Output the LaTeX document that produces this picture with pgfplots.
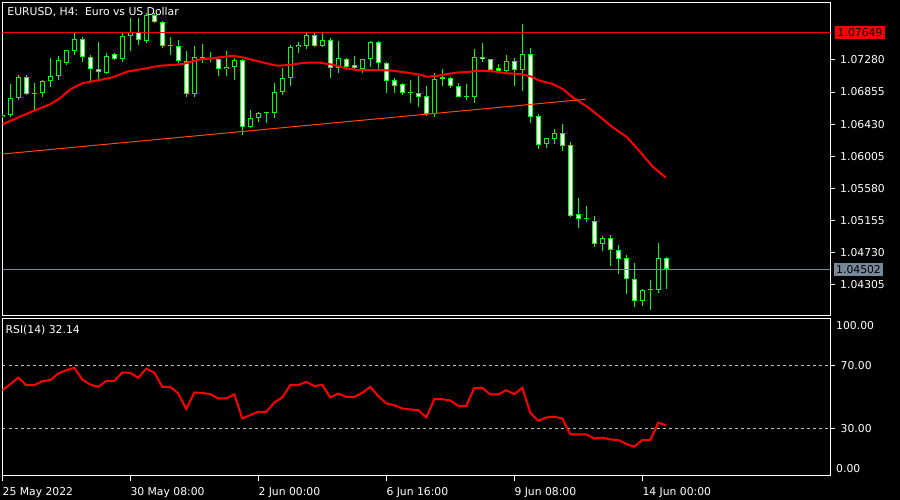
\documentclass[border=0pt]{standalone}
\usepackage{pgfplots}
\pgfplotsset{compat=1.18}
\usepackage{pgfplotstable}
\usepackage{fontspec}
\setmainfont{DejaVu Sans}
\definecolor{mtlime}{RGB}{0,255,0}
\definecolor{mtred}{RGB}{255,0,0}
\definecolor{mtorange}{RGB}{255,69,0}
\definecolor{mtgray}{RGB}{119,136,153}
\definecolor{mtsilver}{RGB}{192,192,192}
\newcommand{\mtf}{\fontsize{10.8bp}{12bp}\selectfont}

\pgfplotstableread{
i o h l c
0 1.06520 1.06573 1.06502 1.06550
1 1.06550 1.06962 1.06528 1.06772
2 1.06772 1.07081 1.06749 1.07050
3 1.07050 1.07077 1.06811 1.06825
4 1.06829 1.06970 1.06617 1.06833
5 1.06838 1.07015 1.06794 1.07001
6 1.06997 1.07302 1.06926 1.07068
7 1.07063 1.07333 1.07015 1.07276
8 1.07245 1.07413 1.07214 1.07408
9 1.07404 1.07656 1.07346 1.07554
10 1.07554 1.07590 1.07258 1.07315
11 1.07315 1.07346 1.06993 1.07156
12 1.07156 1.07514 1.07028 1.07116
13 1.07112 1.07368 1.07094 1.07333
14 1.07360 1.07377 1.07280 1.07298
15 1.07289 1.07634 1.07258 1.07598
16 1.07598 1.07833 1.07404 1.07651
17 1.07651 1.07833 1.07479 1.07541
18 1.07536 1.07899 1.07510 1.07877
19 1.07877 1.07908 1.07775 1.07788
20 1.07780 1.07802 1.07435 1.07466
21 1.07470 1.07590 1.07346 1.07466
22 1.07466 1.07545 1.07245 1.07271
23 1.07271 1.07404 1.06794 1.06825
24 1.06825 1.07470 1.06794 1.07315
25 1.07315 1.07488 1.07236 1.07307
26 1.07307 1.07391 1.07258 1.07298
27 1.07293 1.07324 1.07068 1.07156
28 1.07156 1.07399 1.07068 1.07183
29 1.07183 1.07302 1.07015 1.07276
30 1.07276 1.07289 1.06285 1.06396
31 1.06396 1.06617 1.06374 1.06506
32 1.06506 1.06595 1.06462 1.06573
33 1.06573 1.06590 1.06449 1.06581
34 1.06581 1.06970 1.06506 1.06851
35 1.06851 1.07169 1.06816 1.07037
36 1.07037 1.07479 1.06935 1.07448
37 1.07448 1.07514 1.07377 1.07475
38 1.07470 1.07643 1.07421 1.07612
39 1.07612 1.07647 1.07457 1.07470
40 1.07470 1.07634 1.07457 1.07545
41 1.07541 1.07567 1.07046 1.07169
42 1.07169 1.07532 1.07112 1.07302
43 1.07289 1.07302 1.07147 1.07192
44 1.07209 1.07333 1.07147 1.07169
45 1.07161 1.07293 1.07103 1.07289
46 1.07289 1.07532 1.07192 1.07514
47 1.07514 1.07532 1.07156 1.07236
48 1.07236 1.07258 1.06847 1.07006
49 1.07015 1.07037 1.06847 1.06940
50 1.06957 1.06970 1.06816 1.06847
51 1.06847 1.07015 1.06714 1.06842
52 1.06838 1.07068 1.06661 1.06794
53 1.06798 1.06935 1.06537 1.06564
54 1.06564 1.07103 1.06528 1.07024
55 1.07024 1.07161 1.06935 1.07050
56 1.07037 1.07050 1.06913 1.06940
57 1.06935 1.06970 1.06785 1.06794
58 1.06798 1.06962 1.06749 1.06794
59 1.06794 1.07421 1.06714 1.07324
60 1.07324 1.07510 1.07258 1.07289
61 1.07289 1.07293 1.07139 1.07147
62 1.07169 1.07227 1.07112 1.07134
63 1.07134 1.07346 1.07112 1.07271
64 1.07271 1.07302 1.06935 1.07147
65 1.07147 1.07758 1.06873 1.07355
66 1.07355 1.07435 1.06449 1.06528
67 1.06533 1.06564 1.06104 1.06157
68 1.06166 1.06250 1.06117 1.06241
69 1.06237 1.06360 1.06166 1.06307
70 1.06307 1.06427 1.06077 1.06144
71 1.06148 1.06188 1.05193 1.05211
72 1.05233 1.05445 1.05056 1.05166
73 1.05175 1.05339 1.05136 1.05171
74 1.05144 1.05211 1.04804 1.04844
75 1.04844 1.04945 1.04751 1.04914
76 1.04914 1.04959 1.04552 1.04755
77 1.04755 1.04822 1.04441 1.04645
78 1.04649 1.04689 1.04176 1.04371
79 1.04371 1.04583 1.03999 1.04079
80 1.04079 1.04242 1.04017 1.04225
81 1.04225 1.04362 1.03964 1.04229
82 1.04229 1.04848 1.04185 1.04649
83 1.04649 1.04667 1.04247 1.04502
}\candles

\pgfplotstableread{
i v
0 54.4
1 58.2
2 62.4
3 57.6
4 57.6
5 60.1
6 60.8
7 65.0
8 67.1
9 68.6
10 61.2
11 58.0
12 56.5
13 60.3
14 60.3
15 65.6
16 65.4
17 62.2
18 68.1
19 65.6
20 56.5
21 56.5
22 52.3
23 42.4
24 52.9
25 52.7
26 51.9
27 49.2
28 49.2
29 51.7
30 36.5
31 38.6
32 40.7
33 40.7
34 46.6
35 49.8
36 57.6
37 57.6
38 59.7
39 57.0
40 57.8
41 49.8
42 52.3
43 50.2
44 50.2
45 52.7
46 56.5
47 50.6
48 46.0
49 44.9
50 42.8
51 42.2
52 41.8
53 37.1
54 48.7
55 48.7
56 47.9
57 44.5
58 44.5
59 55.9
60 55.9
61 51.7
62 51.7
63 54.4
64 51.9
65 55.9
66 40.1
67 35.0
68 37.1
69 37.6
70 36.5
71 26.4
72 26.4
73 26.4
74 23.8
75 24.3
76 23.2
77 22.8
78 20.3
79 18.6
80 22.8
81 22.8
82 33.8
83 32.14
}\rsi

\begin{document}
\begin{tikzpicture}
\fill[black] (0,0) rectangle (900bp,500bp);
\begin{axis}[
  at={(2.5bp,184bp)}, anchor=south west, scale only axis,
  width=828bp, height=313.5bp,
  xmin=0.025, xmax=103.525, ymin=1.038842, ymax=1.080427,
  clip mode=individual,
  axis line style={white, line width=1bp},
  axis background/.style={fill=black},
  xtick=\empty,
  ytick={1.07280,1.06855,1.06430,1.06005,1.05580,1.05155,1.04730,1.04305},
  yticklabels={1.07280,1.06855,1.06430,1.06005,1.05580,1.05155,1.04730,1.04305},
  ytick pos=right, yticklabel pos=right,
  tick align=outside, major tick length=4bp,
  tick style={white, line width=1bp},
  yticklabel style={font=\mtf, text=white, anchor=west, inner sep=0pt, xshift=5.5bp},
]
% wicks
\addplot[draw=none, mark=none, forget plot,
  error bars/.cd, y dir=plus, y explicit, error mark=none,
  error bar style={draw=mtlime, line width=1bp}]
  table[x=i, y=l, y error expr={\thisrow{h}-\thisrow{l}}] {\candles};
% body outlines
\addplot[draw=none, mark=none, forget plot,
  error bars/.cd, y dir=plus, y explicit, error mark=none,
  error bar style={draw=mtlime, line width=5bp}]
  table[x=i, y expr={min(\thisrow{o},\thisrow{c})},
        y error expr={max(abs(\thisrow{c}-\thisrow{o}),0.00013)}] {\candles};
% bull bodies (black inside)
\addplot[draw=none, mark=none, forget plot,
  error bars/.cd, y dir=plus, y explicit, error mark=none,
  error bar style={draw=black, line width=3bp}]
  table[x=i, y expr={min(\thisrow{o},\thisrow{c})+0.000133},
        y error expr={(\thisrow{c}>\thisrow{o}) ? max(\thisrow{c}-\thisrow{o}-0.000266,0) : 0}] {\candles};
% bear bodies (white inside)
\addplot[draw=none, mark=none, forget plot,
  error bars/.cd, y dir=plus, y explicit, error mark=none,
  error bar style={draw=white, line width=3bp}]
  table[x=i, y expr={min(\thisrow{o},\thisrow{c})+0.000133},
        y error expr={(\thisrow{o}>\thisrow{c}) ? max(\thisrow{o}-\thisrow{c}-0.000266,0) : 0}] {\candles};
% moving average
\addplot[mtred, line width=2bp, mark=none] coordinates {
(0.05,1.06427) (2.2,1.06528) (4.7,1.06639) (6,1.06692) (7.2,1.06772) (8.5,1.06891)
(10,1.06971) (12.2,1.07015) (13.8,1.07051) (15.6,1.07125) (16.3,1.07138) (18,1.07170)
(19.7,1.07204) (21.3,1.07214) (22.6,1.07227) (24.7,1.07289) (26.3,1.07303) (28.8,1.07337)
(30,1.07316) (32.2,1.07257) (34.3,1.07204) (36,1.07214) (37.2,1.07236) (38,1.07244)
(39.7,1.07244) (41,1.07223) (43,1.07170) (44.3,1.07147) (47.2,1.07147) (48.8,1.07138)
(50.6,1.07112) (52.2,1.07085) (53.1,1.07058) (54.3,1.07068) (55.6,1.07094) (56.8,1.07112)
(58.5,1.07125) (59.7,1.07138) (61.3,1.07130) (63.1,1.07104) (64.7,1.07094) (66,1.07064)
(67.2,1.07005) (68.8,1.06962) (70.1,1.06891) (71.3,1.06785) (73.1,1.06661) (74.7,1.06528)
(76.3,1.06387) (78.1,1.06255) (79.7,1.06064) (81.3,1.05865) (82.95,1.05719)};
% trend line
\addplot[mtorange, line width=1bp, mark=none] coordinates {(0.025,1.06033) (72.9,1.06759)};
% horizontal lines
\addplot[mtred, line width=1bp, mark=none] coordinates {(0.025,1.07649) (103.525,1.07649)};
\addplot[mtgray, line width=1bp, mark=none] coordinates {(0.025,1.04502) (103.525,1.04502)};
\node[fill=mtred, text=black, font=\mtf, anchor=west, inner xsep=3bp, inner ysep=2.5bp]
  at (axis cs:103.525,1.07649) [xshift=4bp] {1.07649};
\node[fill=mtgray, text=black, font=\mtf, anchor=west, inner xsep=2bp, inner ysep=2.5bp]
  at (axis cs:103.525,1.04502) [xshift=3.5bp] {1.04502};
\end{axis}
\node[anchor=west, text=white, font=\mtf, inner sep=0pt] at (7.3bp,488bp) {EURUSD, H4:\ \ Euro vs US Dollar};

\begin{axis}[
  at={(2.5bp,24bp)}, anchor=south west, scale only axis,
  width=828bp, height=157.7bp,
  xmin=0.025, xmax=103.525, ymin=0, ymax=100,
  clip mode=individual,
  axis line style={white, line width=1bp},
  axis background/.style={fill=black},
  xtick={0.025,16,32,48,64,80},
  xticklabels={25 May 2022,30 May 08:00,2 Jun 00:00,6 Jun 16:00,9 Jun 08:00,14 Jun 00:00},
  xtick pos=bottom,
  ytick={30,70}, yticklabels={30.00,70.00},
  ytick pos=right, yticklabel pos=right,
  tick align=outside, major tick length=4.5bp,
  tick style={white, line width=1bp},
  xticklabel style={font=\mtf, text=white, anchor=north west, inner sep=0pt, yshift=-7bp},
  yticklabel style={font=\mtf, text=white, anchor=west, inner sep=0pt, xshift=5.5bp},
]
\addplot[mtsilver, line width=1bp, dash pattern=on 3bp off 3bp, mark=none] coordinates {(0.025,70) (103.525,70)};
\addplot[mtsilver, line width=1bp, dash pattern=on 3bp off 3bp, mark=none] coordinates {(0.025,30) (103.525,30)};
\addplot[mtred, line width=2bp, mark=none] table[x=i, y=v] {\rsi};
\node[anchor=north west, text=white, font=\mtf, inner sep=0pt] at (rel axis cs:1,1) [xshift=5.5bp, yshift=-3.4bp] {100.00};
\node[anchor=south west, text=white, font=\mtf, inner sep=0pt] at (rel axis cs:1,0) [xshift=5.5bp, yshift=2.7bp] {0.00};
\node[anchor=west, text=white, font=\mtf, inner sep=0pt] at (rel axis cs:0,1) [xshift=3bp, yshift=-12bp] {RSI(14) 32.14};
\end{axis}
\end{tikzpicture}
\end{document}
